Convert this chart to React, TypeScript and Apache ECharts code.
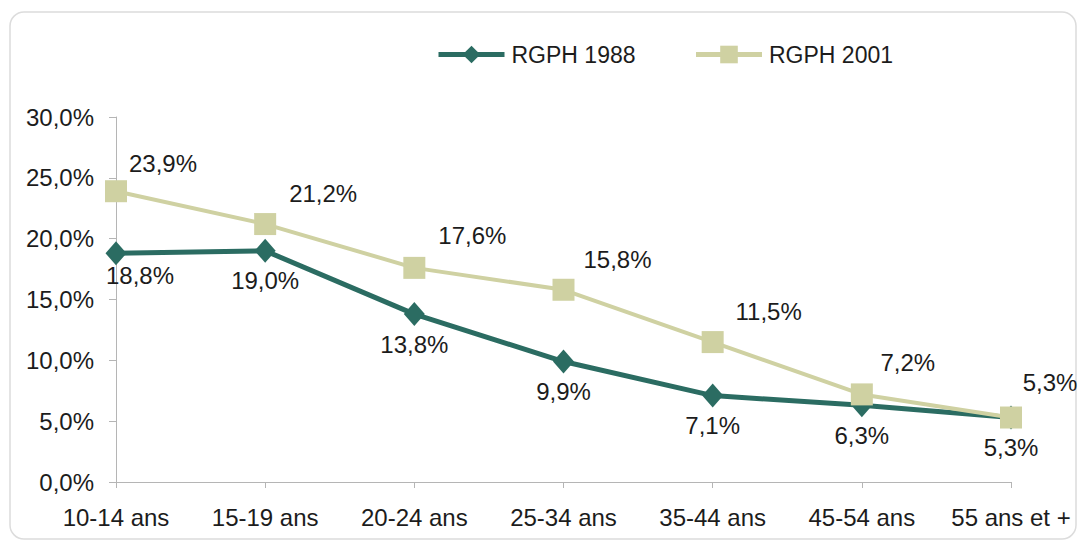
import React, { useEffect, useRef } from "react";
import * as echarts from "echarts";

const categories = ["10-14 ans", "15-19 ans", "20-24 ans", "25-34 ans", "35-44 ans", "45-54 ans", "55 ans et +"];
const rgph1988 = [18.8, 19.0, 13.8, 9.9, 7.1, 6.3, 5.3];
const rgph2001 = [23.9, 21.2, 17.6, 15.8, 11.5, 7.2, 5.3];
const yTicks = [0, 5, 10, 15, 20, 25, 30];

const fmt = (v: number) => v.toFixed(1).replace(".", ",") + "%";
const FONT = "'Liberation Sans', Arial, sans-serif";
const TXT = "#1c1c1c";
const FS = 24;

export default function App() {
  const ref = useRef<HTMLDivElement>(null);
  useEffect(() => {
    const chart = echarts.init(ref.current!, null, { renderer: "svg" });
    chart.setOption({
      animation: false,
      backgroundColor: "#ffffff",
      textStyle: { fontFamily: FONT },
      graphic: [
        {
          type: "rect",
          shape: { x: 10, y: 12, width: 1066, height: 527, r: 14 },
          style: { fill: "none", stroke: "#dcdcdc", lineWidth: 1.5 },
          z: -1,
        },
      ],
      legend: {
        left: 431,
        top: 38,
        itemWidth: 66,
        itemHeight: 22,
        itemGap: 58,
        lineStyle: { width: 5 },
        textStyle: { fontSize: 23, color: TXT, fontFamily: FONT, padding: [0, 0, 0, 2] },
        data: ["RGPH 1988", "RGPH 2001"],
      },
      grid: { left: 116, right: 70, top: 117, bottom: 61 },
      xAxis: {
        type: "category",
        data: categories,
        boundaryGap: false,
        axisLine: { lineStyle: { color: "#b5b5b5", width: 1 } },
        axisTick: { show: true, interval: 0, alignWithLabel: true, length: 6, inside: false, lineStyle: { color: "#b5b5b5" } },
        axisLabel: { interval: 0, hideOverlap: false, fontSize: FS, color: TXT, margin: 23, fontFamily: FONT },
      },
      yAxis: {
        type: "value",
        min: yTicks[0],
        max: yTicks[yTicks.length - 1],
        interval: 5,
        splitLine: { show: false },
        axisLine: { show: true, lineStyle: { color: "#b5b5b5", width: 1 } },
        axisTick: { show: true, length: 7, lineStyle: { color: "#b5b5b5" } },
        axisLabel: { fontSize: FS, color: TXT, margin: 22, fontFamily: FONT, formatter: (v: number) => fmt(v) },
      },
      series: [
        {
          name: "RGPH 1988",
          type: "line",
          data: rgph1988.map((v, i) =>
            i === 0 ? { value: v, label: { offset: [24, 22] } } : v
          ),
          symbol: "diamond",
          symbolSize: [21, 24],
          itemStyle: { color: "#2b6c62" },
          lineStyle: { color: "#2b6c62", width: 5 },
          label: {
            show: true,
            position: "inside",
            offset: [0, 30],
            fontSize: FS,
            color: TXT,
            fontFamily: FONT,
            formatter: (p: any) => fmt(p.value),
          },
          z: 2,
        },
        {
          name: "RGPH 2001",
          type: "line",
          data: rgph2001.map((v, i) => {
            const offs = [[47, -28], [58, -31], [58, -32], [54, -30], [56, -31], [46, -32], [39, -35]];
            return { value: v, label: { offset: offs[i] } };
          }),
          symbol: "rect",
          symbolSize: 22,
          itemStyle: { color: "#cfd1a2" },
          lineStyle: { color: "#cfd1a2", width: 4 },
          label: {
            show: true,
            position: "inside",
            fontSize: FS,
            color: TXT,
            fontFamily: FONT,
            formatter: (p: any) => fmt(p.value),
          },
          z: 3,
        },
      ],
    });
    return () => chart.dispose();
  }, []);
  return <div ref={ref} style={{ position: "fixed", left: 0, top: 0, width: 1081, height: 543 }} />;
}
